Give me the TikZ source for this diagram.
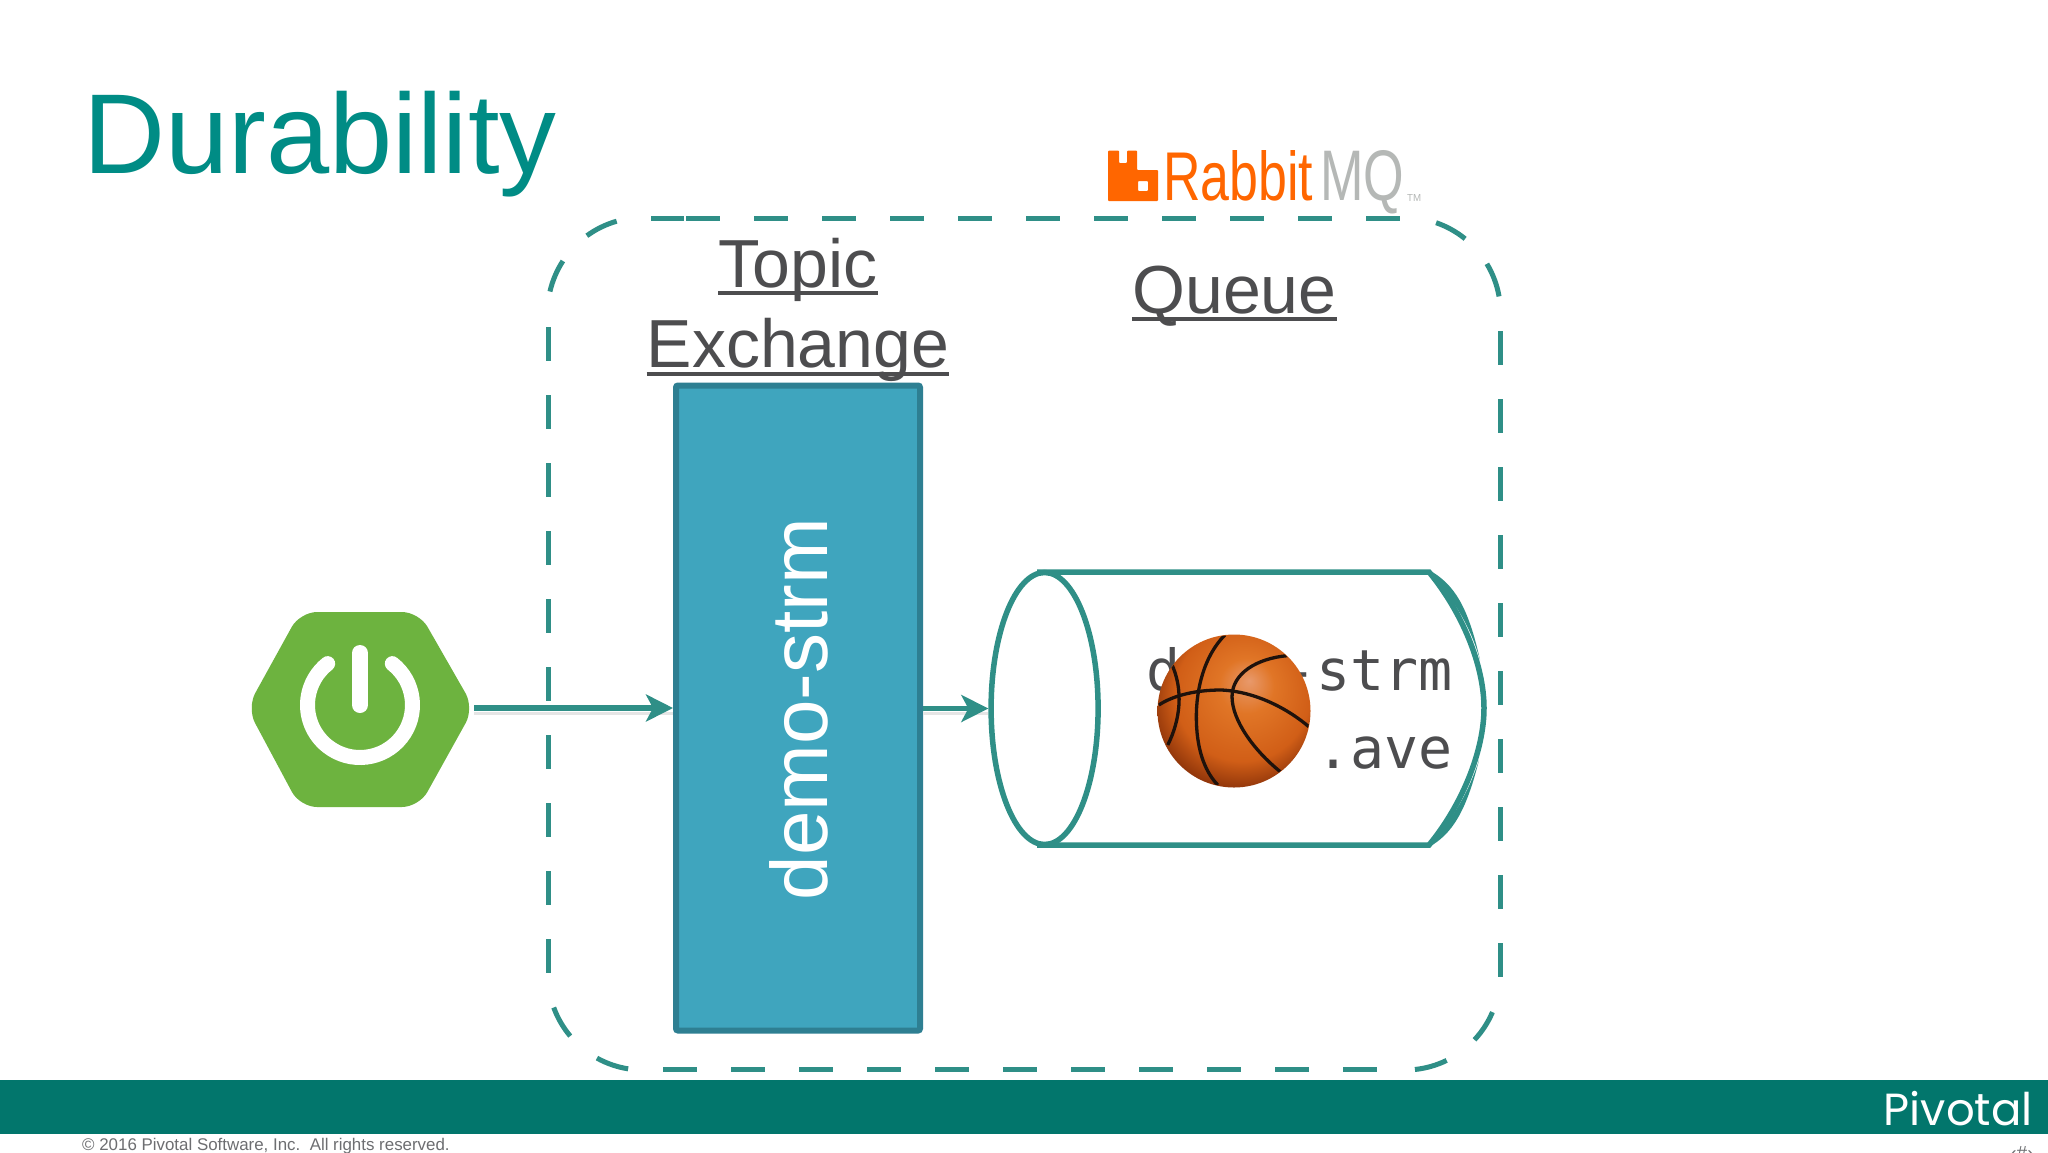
\documentclass[tikz,border=0pt]{standalone}
\usepackage{fontspec}
\setmainfont{Liberation Sans}
\newfontfamily\monof{DejaVu Sans Mono}
\newfontfamily\logof{Poppins}
\usetikzlibrary{arrows.meta,shapes.geometric}
\definecolor{titleteal}{HTML}{008C85}
\definecolor{lineteal}{HTML}{2F8F87}
\definecolor{barteal}{HTML}{02766C}
\definecolor{exfill}{HTML}{3FA5BE}
\definecolor{exline}{HTML}{2E7F92}
\definecolor{labelgrey}{HTML}{4D4D4F}
\definecolor{footgrey}{HTML}{6D6E71}
\definecolor{springgreen}{HTML}{6DB33F}
\definecolor{rabbitorange}{HTML}{FF6600}
\definecolor{mqgrey}{HTML}{B5B8B6}
\definecolor{seam}{HTML}{1E120C}
\pgfdeclareradialshading{bball}{\pgfpoint{5bp}{10bp}}{%
 rgb(0bp)=(.91,.60,.42); rgb(9bp)=(.88,.46,.15); rgb(22bp)=(.82,.37,.09);
 rgb(31bp)=(.52,.18,.03); rgb(37bp)=(.14,.05,.02); rgb(50bp)=(.10,.03,.01)}
\tikzset{
  hdr/.style={text=labelgrey,inner sep=0pt,anchor=base,font=\fontsize{68}{68}\selectfont},
  ulined/.style={draw=labelgrey,line width=4.5pt},
  cyl/.style={draw=lineteal,line width=5.5pt},
  flow/.style={draw=lineteal,line width=5.5pt,-{Stealth[length=27pt,width=27pt,inset=7pt]},
    preaction={draw=black!10,line width=3pt,-,transform canvas={yshift=-5pt}}},
  seamline/.style={draw=seam,line width=3.3pt},
  qtext/.style={text=labelgrey,inner sep=0pt,anchor=base east,font=\monof\fontsize{56.6}{56.6}\selectfont},
  boundary/.style={draw=lineteal,line width=5pt},
  boundarydash/.style={boundary,dash pattern=on 34pt off 34pt},
}
\begin{document}
\begin{tikzpicture}[x=1pt,y=-1pt]
\useasboundingbox (0,0) rectangle (2048,1152);
\fill[white] (0,0) rectangle (2048,1152);
% title
\node[text=titleteal,inner sep=0pt,anchor=base west,font=\fontsize{113.6}{113.6}\selectfont] (title) at (83,173) {Durability};
% broker boundary: straight runs
\draw[boundary,dash pattern=on 33pt off 2pt on 34pt off 10pt] (651,218) -- (720,218);
\draw[boundarydash] (754,218) -- (1402,218);
\draw[boundarydash] (548,327) -- (548,973);
\draw[boundarydash] (1500,331) -- (1500,977);
\draw[boundarydash] (663,1069) -- (1380,1069);
% broker boundary: corner dashes
\draw[boundary] (643,313) ++(254:95.5) arc (254:234:95.5);
\draw[boundary] (643,313) ++(213:95.5) arc (213:193:95.5);
\draw[boundary] (1405,313) ++(-71:95.5) arc (-71:-51:95.5);
\draw[boundary] (1405,313) ++(-31:95.5) arc (-31:-10:95.5);
\draw[boundary] (643,975) ++(160:95) arc (160:140:95);
\draw[boundary] (643,975) ++(119:95) arc (119:99:95);
\draw[boundary] (1405,975) ++(84:95) arc (84:64:95);
\draw[boundary] (1405,975) ++(43:95) arc (43:23:95);
% rabbit logo
\fill[rabbitorange,even odd rule,rounded corners=0.8pt]
  (1108,150.7) -- (1119,150.7) -- (1119,163) -- (1127,163) -- (1127,150.7) -- (1137,150.7) -- (1137,170) -- (1158,170) -- (1158,201) -- (1108,201) -- cycle
  (1138,181) -- (1148,181) -- (1148,191) -- (1138,191) -- cycle;
\node[text=rabbitorange,inner sep=0pt,anchor=base west] (rabbit) at (1163,200) {\resizebox{150pt}{50pt}{Rabbit}};
\node[text=mqgrey,inner sep=0pt,anchor=base west] (mq) at (1320,200) {\resizebox{84pt}{50pt}{MQ}};
\node[text=mqgrey,inner sep=0pt,anchor=base west,font=\fontsize{10}{10}\selectfont] (tm) at (1407,201) {\resizebox{14pt}{7pt}{TM}};
% headers
\node[hdr] (topic) at (798,287) {Topic};
\node[hdr] (exchange) at (798,367) {Exchange};
\node[hdr] (queue) at (1234.5,313) {Queue};
\draw[ulined] ([yshift=-6pt]topic.base west) -- ([yshift=-6pt]topic.base east);
\draw[ulined] ([yshift=-7pt]exchange.base west) -- ([yshift=-7pt]exchange.base east);
\draw[ulined] ([yshift=-6pt]queue.base west) -- ([yshift=-6pt]queue.base east);
% exchange
\node[draw=exline,fill=exfill,line width=6pt,rounded corners=2pt,minimum width=244pt,minimum height=645pt,inner sep=0pt] (exch) at (798,708) {};
\node[text=white,rotate=90,anchor=base,inner sep=0pt,font=\fontsize{80}{80}\selectfont] (exname) at (827,709) {demo-strm};
% spring logo
\fill[springgreen,rounded corners=17pt]
  (300,612) -- (419,612) -- (474,708) -- (419,807) -- (300,807) -- (247,708) -- cycle;
\draw[white,line width=15pt,line cap=round] (360,705) ++(-52:52.5) arc (-52:232:52.5);
\draw[white,line width=16pt,line cap=round] (360,653) -- (360,705);
\coordinate (springE) at (474,708);
% cylinder
\draw[cyl] (1037,572) -- (1429,572) .. controls (1462,612) and (1484,665) .. (1484,708)
  .. controls (1484,751) and (1462,805) .. (1429,845) -- (1037,845);
\fill[lineteal] (1429,570) .. controls (1454,584) and (1468,606) .. (1480,660) .. controls (1468,618) and (1448,594) .. (1429,572) -- cycle;
\fill[lineteal] (1429,847) .. controls (1452,834) and (1466,812) .. (1479,760) .. controls (1466,800) and (1448,824) .. (1429,845) -- cycle;
\node[cyl,ellipse,minimum width=107pt,minimum height=272pt,inner sep=0pt] (mouth) at (1044.6,708.5) {};
% queue name
\node[qtext] (qname) at (1453,690) {demo-strm};
\node[qtext] (qsuffix) at (1453,768) {.ave};
% basketball
\path[shading=bball] (1234,711) circle (76.5);
\begin{scope}
\clip (1234,711) circle (76);
\begin{scope}[shift={(950,550)},x=0.357pt,y=-0.3333pt]
\draw[seamline] (770,255) .. controls (710,320) and (690,420) .. (690,500) .. controls (690,590) and (710,660) .. (750,705);
\draw[seamline] (585,465) .. controls (620,440) and (680,420) .. (760,420) .. controls (860,425) and (950,480) .. (1005,530);
\draw[seamline] (945,317) .. controls (860,325) and (790,370) .. (790,440) .. controls (790,510) and (850,600) .. (925,665);
\draw[seamline] (620,340) .. controls (655,420) and (645,510) .. (610,585);
\end{scope}
\end{scope}
% connectors
\draw[flow] (springE) -- (exch.west);
\draw[flow] (exch.east |- mouth.west) -- (mouth.west);
% footer
\fill[barteal] (0,1080) rectangle (2048,1134);
\node[text=white,inner sep=0pt,anchor=base east,font=\logof\fontsize{45}{45}\selectfont] (pivotal) at (2033,1125) {Pivotal};
\node[text=footgrey,inner sep=0pt,anchor=base west,font=\fontsize{16.9}{16.9}\selectfont] (copy) at (82,1150) {© 2016 Pivotal Software, Inc.\ \ All rights reserved.};
\node[text=footgrey,inner sep=0pt,anchor=base,font=\fontsize{19}{19}\selectfont] (pageno) at (2022,1159) {\char"2039\#\char"203A};
\end{tikzpicture}
\end{document}
